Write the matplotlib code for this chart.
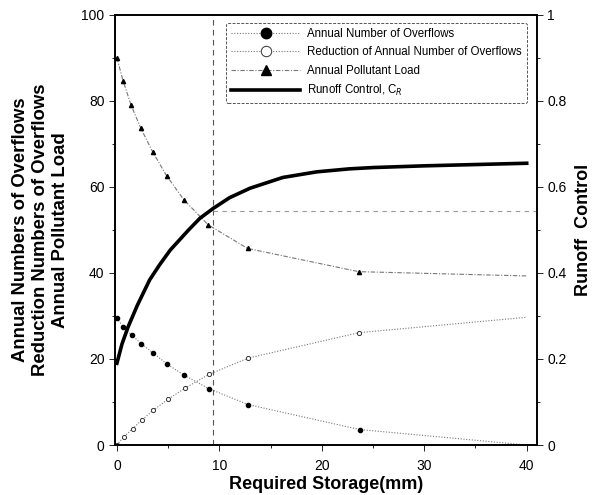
import matplotlib
matplotlib.use("Agg")
import matplotlib.pyplot as plt
from matplotlib.ticker import MultipleLocator

plt.rcParams['font.family'] = ['Liberation Sans', 'DejaVu Sans']

# Annual pollutant load (triangles)
load_x = [0, 0.6, 1.37, 2.34, 3.48, 4.85, 6.54, 8.9, 12.75, 23.6, 40]
load_y = [90, 84.7, 79.1, 73.6, 68.2, 62.6, 57.0, 51.2, 45.7, 40.3, 39.3]

# Annual number of overflows (filled circles)
ovf_x = [0, 0.6, 1.43, 2.4, 3.48, 4.9, 6.57, 8.98, 12.8, 23.7, 40]
ovf_y = [29.5, 27.5, 25.6, 23.5, 21.5, 18.8, 16.2, 13.1, 9.4, 3.6, 0.0]

# Reduction of annual number of overflows (open circles)
red_x = [0, 0.68, 1.53, 2.44, 3.55, 4.98, 6.63, 8.98, 12.8, 23.6, 40]
red_y = [0, 1.9, 3.8, 5.8, 8.1, 10.6, 13.2, 16.4, 20.2, 26.1, 29.7]

# Runoff control C_R (right axis)
cr_x = [0, 0.5, 1.1, 2.0, 3.2, 4.2, 5.2, 7.0, 8.1, 9.4, 11, 13, 16.2, 19.5, 22.7, 25, 30, 35, 40]
cr_y = [0.19, 0.235, 0.275, 0.325, 0.384, 0.42, 0.453, 0.50, 0.527, 0.55, 0.575, 0.597,
        0.622, 0.635, 0.642, 0.645, 0.649, 0.652, 0.655]

ref_storage = 9.4
ref_control = 0.545

fig = plt.figure(figsize=(5.92, 4.95), dpi=100)
ax = fig.add_axes([0.194, 0.101, 0.713, 0.869])
ax2 = ax.twinx()

gray = '#777777'
marked = list(range(10))
l1, = ax.plot(ovf_x, ovf_y, color=gray, lw=0.8, ls=(0, (1, 1.5)), marker='o',
              ms=3, mfc='black', mec='black', markevery=marked,
              label='Annual Number of Overflows')
l2, = ax.plot(red_x, red_y, color=gray, lw=0.8, ls=(0, (1, 1.5)), marker='o',
              ms=3, mfc='white', mec='#333333', mew=0.7, markevery=marked,
              label='Reduction of Annual Number of Overflows')
l3, = ax.plot(load_x, load_y, color=gray, lw=0.8, ls=(0, (4, 1.5, 1, 1.5)), marker='^',
              ms=3, mfc='black', mec='black', markevery=marked,
              label='Annual Pollutant Load')

l4, = ax2.plot(cr_x, cr_y, color='black', lw=2.6, label='Runoff Control, C$_R$')
ax2.axvline(ref_storage, color='#555555', lw=0.8, ls=(0, (5, 4)))
ax2.plot([ref_storage, 41], [ref_control, ref_control], color='#999999', lw=0.8, ls=(0, (4, 4)))

ax.set_xlim(-0.2, 41)
ax.set_ylim(0, 100)
ax2.set_ylim(0, 1)
ax.xaxis.set_major_locator(MultipleLocator(10))
ax.xaxis.set_minor_locator(MultipleLocator(5))
ax.yaxis.set_major_locator(MultipleLocator(20))
ax.yaxis.set_minor_locator(MultipleLocator(10))
ax2.yaxis.set_minor_locator(MultipleLocator(0.1))
ax2.set_yticks([0, 0.2, 0.4, 0.6, 0.8, 1.0])
ax2.set_yticklabels(['0', '0.2', '0.4', '0.6', '0.8', '1'])

for a in (ax, ax2):
    a.tick_params(which='both', labelsize=10, width=0.6)
    a.tick_params(which='major', length=4)
    a.tick_params(which='minor', length=2.5)
    for s in a.spines.values():
        s.set_linewidth(1.2)
ax.tick_params(axis='x', pad=6)

ax.set_xlabel('Required Storage(mm)', fontsize=13, fontweight='bold', labelpad=2)
ax.set_ylabel('Annual Numbers of Overflows\nReduction Numbers of Overflows\nAnnual Pollutant Load',
              fontsize=13.3, fontweight='bold', labelpad=9, linespacing=1.22)
ax2.set_ylabel('Runoff  Control', fontsize=13, fontweight='bold', labelpad=6)

leg = ax2.legend(handles=[l1, l2, l3, l4], loc='upper right', fontsize=8.3,
                 markerscale=2.5, fancybox=True, framealpha=1, edgecolor='#555555',
                 handlelength=6, handletextpad=0.6, borderpad=0.45, labelspacing=0.55,
                 bbox_to_anchor=(0.99, 0.995))
leg.get_frame().set_linewidth(0.7)
leg.get_frame().set_linestyle((0, (3, 1.5)))

fig.savefig('out.png', dpi=100)
